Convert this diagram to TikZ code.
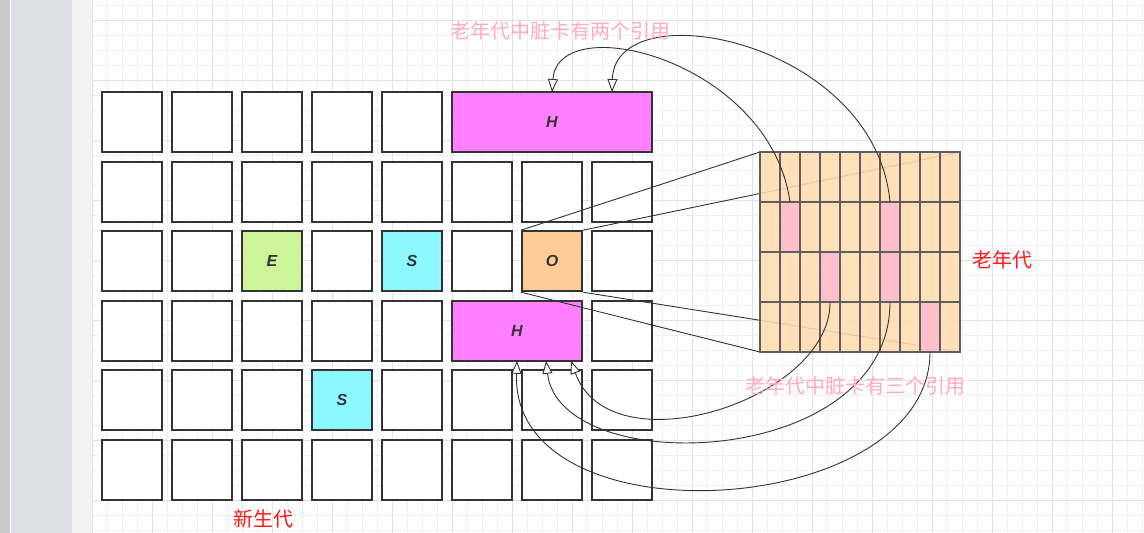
\documentclass[tikz,border=0pt]{standalone}
\usepackage{fontspec}
\setsansfont{Liberation Sans}
\newfontfamily\cjk{Noto Sans CJK SC}
\usetikzlibrary{arrows.meta}
\definecolor{edge}{HTML}{333333}
\definecolor{tblline}{HTML}{5E5E5E}
\definecolor{hmag}{HTML}{FF80FF}
\definecolor{egreen}{HTML}{CCF59A}
\definecolor{scyan}{HTML}{8CF7FF}
\definecolor{oorange}{HTML}{FFCC99}
\definecolor{peach}{HTML}{FFDCB0}
\definecolor{dirtypink}{HTML}{FFC0CB}
\definecolor{notepink}{HTML}{FFAAC8}
\definecolor{labelred}{HTML}{FF1A1A}
\definecolor{sidegray}{HTML}{C9C9C9}
\definecolor{sideblue}{HTML}{DEE0E5}
\definecolor{sidelight}{HTML}{F2F2F2}
\definecolor{minorgrid}{HTML}{F0F0F0}
\definecolor{majorgrid}{HTML}{E3E3E3}
\begin{document}
\begin{tikzpicture}[x=1pt,y=-1pt,
  cell/.style={draw=edge, line width=2pt, fill=white, minimum width=60pt, minimum height=60pt, inner sep=0pt,
    font=\sffamily\bfseries\itshape\fontsize{16}{16}\selectfont, text=edge},
  dirty/.style={fill=dirtypink, minimum width=20pt, inner sep=0pt, outer sep=0pt},
  zoomline/.style={draw=edge, line width=0.9pt},
  ref/.style={draw=edge, line width=0.9pt, -{Triangle[fill=white, length=13pt, width=10pt]}},
  note/.style={font=\cjk\fontsize{20}{20}\selectfont, text=notepink, inner sep=0pt},
  gen/.style={font=\cjk\fontsize{20}{20}\selectfont, text=labelred, inner sep=0pt}]
\useasboundingbox (0,0) rectangle (1144,533);
% editor background
\fill[white] (0,0) rectangle (1144,533);
\fill[sidegray] (0,0) rectangle (10,533);
\fill[sideblue] (11,0) rectangle (72,533);
\fill[sidelight] (72,0) rectangle (92,533);
\foreach \x in {92,107,...,1144} \draw[minorgrid] (\x,0) -- (\x,533);
\foreach \y in {5,20,...,533} \draw[minorgrid] (92,\y) -- (1144,\y);
\foreach \x in {92,152,...,1144} \draw[majorgrid] (\x,0) -- (\x,533);
\foreach \y in {20,80,...,533} \draw[majorgrid] (92,\y) -- (1144,\y);
% young generation
\foreach \r/\cols in {0/{0,1,2,3,4}, 1/{0,1,2,3,4,5,6,7}, 2/{0,1,3,5,7}, 3/{0,1,2,3,4,7}, 4/{0,1,2,4,5,6,7}, 5/{0,1,2,3,4,5,6,7}}
  \foreach \c in \cols \node[cell] (c\r\c) at (132+70*\c, 122+69.6*\r) {};
\node[cell, fill=egreen] (eden) at (272,261.2) {E};
\node[cell, fill=scyan] (survA) at (412,261.2) {S};
\node[cell, fill=oorange] (old) at (552,261.2) {O};
\node[cell, fill=scyan] (survB) at (342,400.4) {S};
\node[cell, fill=hmag, minimum width=200pt] (hugeA) at (552,122) {H};
\node[cell, fill=hmag, minimum width=130pt] (hugeB) at (517,330.8) {H};
% old generation card table
\node[minimum width=200pt, minimum height=200pt, inner sep=0pt, outer sep=0pt, anchor=north west] (oldgen) at (760,152) {};
\draw[zoomline] (old.north west) -- (oldgen.north west);
\draw[zoomline] (old.north east) -- (oldgen.north east);
\draw[zoomline] (old.south west) -- (oldgen.south west);
\draw[zoomline] (old.south east) -- (oldgen.south east);
\fill[peach, fill opacity=0.88] (oldgen.north west) rectangle (oldgen.south east);
\node[dirty, minimum height=50pt] (dirtyA) at (790,227) {};
\node[dirty, minimum height=100pt] (dirtyB) at (890,252) {};
\node[dirty, minimum height=50pt] (dirtyC) at (830,277) {};
\node[dirty, minimum height=50pt] (dirtyD) at (930,327) {};
\foreach \i in {1,...,9} \draw[tblline, line width=1.4pt] (760+20*\i,152) -- (760+20*\i,352);
\foreach \j in {1,2,3} \draw[tblline, line width=1.4pt] (760,152+50*\j) -- (960,152+50*\j);
\draw[tblline, line width=1.4pt] (oldgen.north west) rectangle (oldgen.south east);
% references from dirty cards
\draw[ref] (dirtyA.north) .. controls (770,60) and (558,8) .. ([yshift=-1pt]hugeA.north);
\draw[ref] (dirtyB.north) .. controls (875,40) and (615,-10) .. ([xshift=60pt,yshift=-1pt]hugeA.north);
\draw[ref] (dirtyC.south) .. controls (831,400) and (610,470) .. ([xshift=54pt,yshift=1pt]hugeB.south);
\draw[ref] (dirtyB.south) .. controls (890,470) and (560,480) .. ([xshift=29pt,yshift=1pt]hugeB.south);
\draw[ref] (dirtyD.south) .. controls (930,520) and (510,545) .. ([yshift=1pt]hugeB.south);
% labels
\node[note] (noteTop) at (560,31) {老年代中脏卡有两个引用};
\node[note] (noteBot) at (855,386) {老年代中脏卡有三个引用};
\node[gen] (oldLabel) at (1002,260) {老年代};
\node[gen] (youngLabel) at (263,519) {新生代};
\end{tikzpicture}
\end{document}
